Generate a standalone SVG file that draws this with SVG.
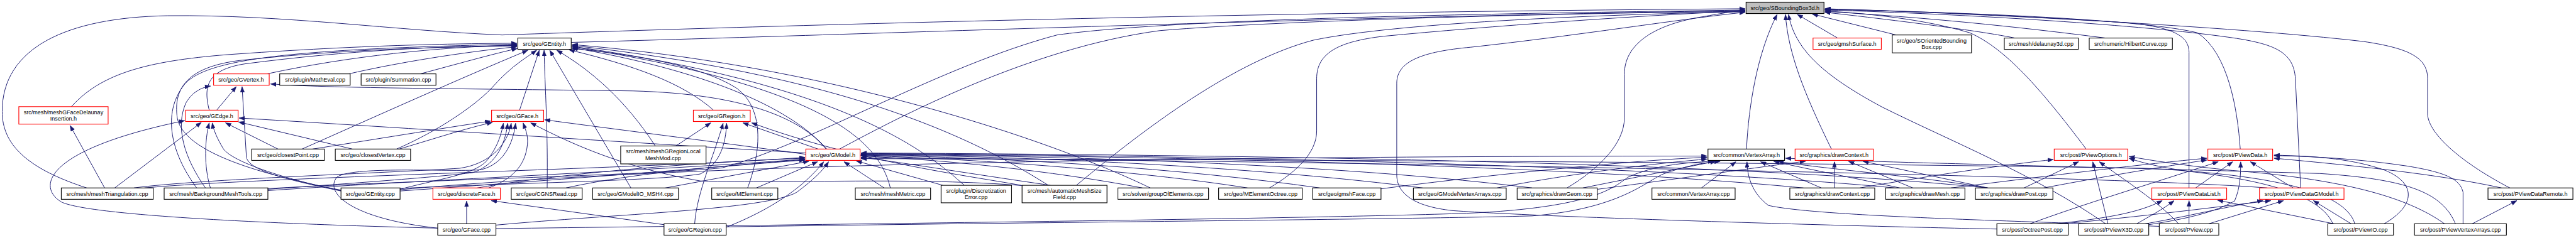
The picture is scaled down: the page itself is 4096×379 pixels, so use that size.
<svg xmlns="http://www.w3.org/2000/svg" width="4096" height="379" viewBox="0 0 4096 379">
<defs>
<style>
.e{fill:none;stroke:#191970;stroke-width:1.4;marker-end:url(#ah)}
.nb{fill:#fff;stroke:#000;stroke-width:1.6}
.nr{fill:#fff;stroke:#ff0000;stroke-width:1.6}
.ng{fill:#bfbfbf;stroke:#000;stroke-width:1.6}
.t{font-family:"Liberation Sans",Arial,sans-serif;font-size:13px;fill:#000;text-anchor:middle}
</style>
<marker id="ah" markerUnits="userSpaceOnUse" markerWidth="13" markerHeight="10" viewBox="0 0 12 9" refX="12" refY="4.5" orient="auto">
<path d="M0,0 L12,4.5 L0,9 z" fill="#191970" stroke="#191970" stroke-width="0.5"/>
</marker>
</defs>
<rect x="0" y="0" width="4096" height="379" fill="#fff"/>
<g transform="scale(0.696)">
<g id="connectors">
<path class="e" d="M1305,97 C2000,78 3000,40 3987,24"/>
<path class="e" d="M198,430 C60,385 5,330 5,255 C5,110 150,40 383,36 C650,33 900,70 1147,80 C1500,68 2600,30 3987,20"/>
<path class="e" d="M1918,341 C2050,270 2350,110 2650,70 C2950,45 3600,30 3987,26"/>
<path class="e" d="M600,432 C1000,410 1500,400 1650,384 C1850,330 2150,150 2415,80 C2700,40 3500,30 3987,23"/>
<path class="e" d="M2459,424 C2620,290 2820,140 3000,92 C3200,50 3700,32 3987,27"/>
<path class="e" d="M2900,430 C2960,395 3008,350 3008,300 L3008,180 C3008,120 3060,95 3160,83 C3400,60 3750,35 3987,25"/>
<path class="e" d="M4562,524 C4250,518 3550,498 3320,482 C3225,472 3191,440 3191,400 L3191,190 C3191,140 3250,118 3360,108 C3600,82 3850,42 3987,28"/>
<path class="e" d="M3580,430 C3650,388 3711,330 3711,270 L3711,170 C3711,100 3780,58 3880,40 C3930,31 3960,26 3987,23"/>
<path class="e" d="M3990,341 C3995,240 4015,120 4060,33"/>
<path class="e" d="M4184,341 C4120,210 4085,120 4079,33"/>
<path class="e" d="M4812,513 C4650,400 4450,320 4300,245 C4160,170 4100,110 4086,33"/>
<path class="e" d="M4198,87 L4106,33"/>
<path class="e" d="M4332,80 L4140,32"/>
<path class="e" d="M4603,87 C4560,78 4450,60 4169,28"/>
<path class="e" d="M4810,87 C4600,60 4400,40 4169,26"/>
<path class="e" d="M4766,341 C4660,200 4580,110 4500,75 C4400,45 4280,32 4169,25"/>
<path class="e" d="M5001,430 L5001,120 C5001,80 4960,62 4860,52 C4600,35 4350,24 4169,21"/>
<path class="e" d="M5118,341 C5112,250 5090,120 5020,75 C4900,45 4500,28 4169,22"/>
<path class="e" d="M5256,430 L5244,180 C5240,120 5200,100 5090,85 C4900,58 4500,32 4169,23"/>
<path class="e" d="M5734,430 C5610,365 5546,300 5546,260 L5546,180 C5546,130 5500,110 5400,95 C5100,60 4500,30 4169,20"/>
<path class="e" d="M610,169 C800,128 1000,108 1181,103"/>
<path class="e" d="M797,169 C900,145 1050,120 1181,107"/>
<path class="e" d="M960,169 C1050,145 1120,125 1182,111"/>
<path class="e" d="M163,244 C230,170 330,140 520,125 C800,105 1000,100 1181,99"/>
<path class="e" d="M478,252 C465,200 470,160 560,146 C800,115 1000,106 1181,104"/>
<path class="e" d="M450,431 C390,350 370,260 420,195 C470,130 700,112 1181,101"/>
<path class="e" d="M779,435 C600,400 420,350 405,270 C395,200 430,150 560,137 C800,112 1000,108 1181,105"/>
<path class="e" d="M690,341 C850,270 1050,180 1206,115"/>
<path class="e" d="M906,341 C1000,300 1090,240 1130,194 C1170,150 1205,130 1226,115"/>
<path class="e" d="M1187,252 L1232,115"/>
<path class="e" d="M1250,431 C1252,300 1245,200 1243,115"/>
<path class="e" d="M1442,431 L1256,115"/>
<path class="e" d="M1497,334 C1430,230 1350,160 1272,115"/>
<path class="e" d="M1630,252 C1560,190 1450,150 1300,114"/>
<path class="e" d="M1708,430 C1745,330 1740,240 1680,200 C1600,150 1450,125 1307,111"/>
<path class="e" d="M1889,341 C1800,240 1600,160 1307,109"/>
<path class="e" d="M2034,430 C2010,330 1900,200 1307,107"/>
<path class="e" d="M2203,424 C2100,330 1900,190 1307,106"/>
<path class="e" d="M2395,424 C2200,300 1900,170 1307,104"/>
<path class="e" d="M2628,430 C2400,320 1900,150 1307,102"/>
<path class="e" d="M495,252 L540,198"/>
<path class="e" d="M470,431 C420,360 400,290 425,235 C440,210 460,200 481,197"/>
<path class="e" d="M779,437 C650,410 570,390 563,360 L553,198"/>
<path class="e" d="M1887,341 C1830,270 1700,215 1446,208 C1000,202 760,202 618,192"/>
<path class="e" d="M1000,522 C600,512 200,492 140,462 C80,425 110,340 422,276"/>
<path class="e" d="M262,430 L460,280"/>
<path class="e" d="M481,431 C465,380 468,320 478,281"/>
<path class="e" d="M779,436 C650,410 530,370 510,340 C495,315 487,295 485,281"/>
<path class="e" d="M635,341 L515,281"/>
<path class="e" d="M805,341 L545,279"/>
<path class="e" d="M1841,350 C1500,330 800,285 546,270"/>
<path class="e" d="M239,430 L160,287"/>
<path class="e" d="M714,341 C850,320 1000,295 1121,277"/>
<path class="e" d="M912,341 C1000,315 1060,295 1125,280"/>
<path class="e" d="M1841,353 C1600,320 1400,295 1244,274"/>
<path class="e" d="M1114,431 C1170,410 1200,380 1205,330 C1207,310 1200,295 1195,281"/>
<path class="e" d="M2340,425 C2100,405 1800,420 1600,414 C1400,380 1270,310 1212,281"/>
<path class="e" d="M1000,522 C800,500 740,440 770,405 C810,378 1050,395 1100,388 C1150,375 1172,330 1178,282"/>
<path class="e" d="M306,430 C450,410 900,395 1050,385 C1120,375 1160,330 1168,282"/>
<path class="e" d="M612,433 C800,420 1000,405 1080,395 C1140,375 1155,320 1160,282"/>
<path class="e" d="M914,433 C1000,410 1080,400 1110,370 C1135,340 1145,310 1150,282"/>
<path class="e" d="M1544,334 L1624,281"/>
<path class="e" d="M1587,512 C1592,440 1630,360 1652,282"/>
<path class="e" d="M900,432 C1100,420 1500,415 1600,398 C1645,375 1658,330 1660,282"/>
<path class="e" d="M1869,341 L1697,281"/>
<path class="e" d="M2333,424 C2200,400 1960,370 1717,281"/>
<path class="e" d="M1066,512 L1066,460"/>
<path class="e" d="M1517,514 L1122,459"/>
<path class="e" d="M330,430 C600,405 1500,385 1839,360"/>
<path class="e" d="M612,436 C1000,410 1500,390 1839,364"/>
<path class="e" d="M914,437 C1300,410 1600,385 1839,366"/>
<path class="e" d="M1085,431 C1234,404 1524,374 1839,362"/>
<path class="e" d="M1293,430 C1450,395 1650,380 1839,365"/>
<path class="e" d="M1515,431 L1848,369"/>
<path class="e" d="M1728,430 L1868,370"/>
<path class="e" d="M1659,520 C1790,468 1850,410 1882,370"/>
<path class="e" d="M1133,515 C1400,490 1750,480 1820,440 C1860,410 1880,390 1893,370"/>
<path class="e" d="M2020,430 L1928,370"/>
<path class="e" d="M2154,424 L1956,368"/>
<path class="e" d="M2400,424 C2200,395 2050,370 1967,360"/>
<path class="e" d="M2610,430 C2400,390 2150,365 1967,357"/>
<path class="e" d="M2850,430 C2600,390 2200,362 1967,356"/>
<path class="e" d="M3015,430 C2700,385 2300,360 1967,355"/>
<path class="e" d="M3250,430 C2900,385 2400,358 1967,354"/>
<path class="e" d="M3500,430 C3100,380 2500,357 1967,353"/>
<path class="e" d="M4120,430 C3600,380 2700,358 1967,352"/>
<path class="e" d="M4330,430 C3800,380 2800,356 1967,351"/>
<path class="e" d="M4540,430 C4000,375 3000,355 1967,350"/>
<path class="e" d="M5180,430 C4800,400 3000,368 1967,361"/>
<path class="e" d="M5380,513 C5360,440 5200,400 4900,385 C4000,370 2800,365 1967,363"/>
<path class="e" d="M3887,430 L3966,370"/>
<path class="e" d="M3616,430 L3920,369"/>
<path class="e" d="M3420,430 C3600,395 3800,372 3900,364"/>
<path class="e" d="M3155,432 C3400,400 3750,365 3900,360"/>
<path class="e" d="M1133,523 C2000,512 3000,500 3350,488 C3650,475 3690,425 3720,405 C3780,378 3850,372 3915,369"/>
<path class="e" d="M1659,519 C2500,507 3200,502 3500,494 C3700,478 3760,415 3800,398 C3850,380 3890,372 3930,369"/>
<path class="e" d="M914,434 C1500,380 2500,358 3900,357"/>
<path class="e" d="M4340,430 C4250,410 4120,385 4052,369"/>
<path class="e" d="M4540,430 C4400,405 4150,385 4062,369"/>
<path class="e" d="M4161,430 L4022,370"/>
<path class="e" d="M4935,518 C4600,505 4150,495 4040,470 C4000,440 3992,400 3991,370"/>
<path class="e" d="M5610,513 C5580,440 5500,410 5300,397 C4800,382 4300,372 4079,362"/>
<path class="e" d="M4191,430 L4191,370"/>
<path class="e" d="M4370,430 L4223,369"/>
<path class="e" d="M4542,430 L4256,369"/>
<path class="e" d="M3650,433 C3900,400 4050,378 4125,369"/>
<path class="e" d="M4249,430 C4450,395 4600,375 4691,365"/>
<path class="e" d="M4624,430 L4749,370"/>
<path class="e" d="M4816,513 L4781,370"/>
<path class="e" d="M4978,513 C4930,460 4850,410 4796,370"/>
<path class="e" d="M5330,513 C5300,440 5150,410 5000,392 C4950,385 4900,375 4864,362"/>
<path class="e" d="M5586,513 C5500,450 5350,410 5100,390 C5000,380 4920,368 4864,358"/>
<path class="e" d="M5016,430 L5101,370"/>
<path class="e" d="M5239,430 L5141,370"/>
<path class="e" d="M4909,514 C5000,500 5060,485 5105,460 C5118,430 5119,400 5119,370"/>
<path class="e" d="M4635,513 C4750,470 4900,425 5068,370"/>
<path class="e" d="M4457,430 C4700,400 4900,375 5042,362"/>
<path class="e" d="M4669,430 C4800,405 4950,380 5042,366"/>
<path class="e" d="M5445,513 C5520,470 5520,420 5450,390 C5380,365 5300,357 5195,355"/>
<path class="e" d="M5627,513 L5627,440 C5620,410 5590,395 5500,380 C5400,365 5300,358 5195,356"/>
<path class="e" d="M5715,430 C5600,405 5450,385 5195,362"/>
<path class="e" d="M5001,512 L5001,459"/>
<path class="e" d="M5337,513 L5066,458"/>
<path class="e" d="M4690,513 C4800,500 4880,490 4940,459"/>
<path class="e" d="M4880,513 C4910,495 4940,480 4967,459"/>
<path class="e" d="M5373,513 L5285,459"/>
<path class="e" d="M5043,513 L5217,459"/>
<path class="e" d="M4700,513 C4900,495 5050,475 5188,459"/>
<path class="e" d="M4890,514 C5000,495 5100,470 5170,459"/>
<path class="e" d="M5646,513 L5750,459"/>
</g>
<g id="n-sbb"><rect class="ng" x="3989" y="5" width="178" height="26"/><text class="t" x="4078" y="23">src/geo/SBoundingBox3d.h</text></g>
<g id="n-gentity-h"><rect class="nb" x="1183" y="87" width="122" height="26"/><text class="t" x="1244" y="105">src/geo/GEntity.h</text></g>
<g id="n-gmshsurface-h"><rect class="nr" x="4142" y="87" width="156" height="26"/><text class="t" x="4220" y="105">src/geo/gmshSurface.h</text></g>
<g id="n-sorientedbbox"><rect class="nb" x="4323" y="80" width="181" height="41"/><text class="t" x="4413" y="97">src/geo/SOrientedBounding</text><text class="t" x="4413" y="112">Box.cpp</text></g>
<g id="n-delaunay3d"><rect class="nb" x="4579" y="87" width="169" height="26"/><text class="t" x="4663" y="105">src/mesh/delaunay3d.cpp</text></g>
<g id="n-hilbert"><rect class="nb" x="4773" y="87" width="190" height="26"/><text class="t" x="4868" y="105">src/numeric/HilbertCurve.cpp</text></g>
<g id="n-gvertex-h"><rect class="nr" x="488" y="169" width="127" height="26"/><text class="t" x="551" y="187">src/geo/GVertex.h</text></g>
<g id="n-matheval"><rect class="nb" x="639" y="169" width="161" height="26"/><text class="t" x="720" y="187">src/plugin/MathEval.cpp</text></g>
<g id="n-summation"><rect class="nb" x="825" y="169" width="171" height="26"/><text class="t" x="910" y="187">src/plugin/Summation.cpp</text></g>
<g id="n-gfdi-h"><rect class="nr" x="43" y="244" width="204" height="40"/><text class="t" x="145" y="261">src/mesh/meshGFaceDelaunay</text><text class="t" x="145" y="276">Insertion.h</text></g>
<g id="n-gedge-h"><rect class="nr" x="424" y="252" width="120" height="26"/><text class="t" x="484" y="270">src/geo/GEdge.h</text></g>
<g id="n-gface-h"><rect class="nr" x="1123" y="252" width="119" height="26"/><text class="t" x="1182" y="270">src/geo/GFace.h</text></g>
<g id="n-gregion-h"><rect class="nr" x="1584" y="252" width="130" height="26"/><text class="t" x="1649" y="270">src/geo/GRegion.h</text></g>
<g id="n-closestpoint"><rect class="nb" x="575" y="341" width="166" height="26"/><text class="t" x="658" y="359">src/geo/closestPoint.cpp</text></g>
<g id="n-closestvertex"><rect class="nb" x="766" y="341" width="172" height="26"/><text class="t" x="852" y="359">src/geo/closestVertex.cpp</text></g>
<g id="n-grlmm"><rect class="nb" x="1418" y="334" width="195" height="41"/><text class="t" x="1515" y="351">src/mesh/meshGRegionLocal</text><text class="t" x="1515" y="366">MeshMod.cpp</text></g>
<g id="n-gmodel-h"><rect class="nr" x="1841" y="341" width="124" height="26"/><text class="t" x="1903" y="359">src/geo/GModel.h</text></g>
<g id="n-vertexarray-h"><rect class="nb" x="3902" y="341" width="175" height="26"/><text class="t" x="3990" y="359">src/common/VertexArray.h</text></g>
<g id="n-drawcontext-h"><rect class="nr" x="4101" y="341" width="179" height="26"/><text class="t" x="4190" y="359">src/graphics/drawContext.h</text></g>
<g id="n-pviewoptions-h"><rect class="nr" x="4693" y="341" width="168" height="26"/><text class="t" x="4777" y="359">src/post/PViewOptions.h</text></g>
<g id="n-pviewdata-h"><rect class="nr" x="5044" y="341" width="148" height="26"/><text class="t" x="5118" y="359">src/post/PViewData.h</text></g>
<g id="n-meshtriangulation"><rect class="nb" x="140" y="430" width="210" height="26"/><text class="t" x="245" y="448">src/mesh/meshTriangulation.cpp</text></g>
<g id="n-bmt"><rect class="nb" x="375" y="430" width="237" height="26"/><text class="t" x="493" y="448">src/mesh/BackgroundMeshTools.cpp</text></g>
<g id="n-gentity-cpp"><rect class="nb" x="779" y="430" width="135" height="26"/><text class="t" x="846" y="448">src/geo/GEntity.cpp</text></g>
<g id="n-discreteface-h"><rect class="nr" x="989" y="430" width="154" height="26"/><text class="t" x="1066" y="448">src/geo/discreteFace.h</text></g>
<g id="n-cgnsread"><rect class="nb" x="1168" y="430" width="162" height="26"/><text class="t" x="1249" y="448">src/geo/CGNSRead.cpp</text></g>
<g id="n-msh4"><rect class="nb" x="1354" y="430" width="196" height="26"/><text class="t" x="1452" y="448">src/geo/GModelIO_MSH4.cpp</text></g>
<g id="n-melement"><rect class="nb" x="1626" y="430" width="151" height="26"/><text class="t" x="1701" y="448">src/geo/MElement.cpp</text></g>
<g id="n-meshmetric"><rect class="nb" x="1954" y="430" width="172" height="26"/><text class="t" x="2040" y="448">src/mesh/meshMetric.cpp</text></g>
<g id="n-discerr"><rect class="nb" x="2150" y="424" width="161" height="40"/><text class="t" x="2230" y="441">src/plugin/Discretization</text><text class="t" x="2230" y="456">Error.cpp</text></g>
<g id="n-amsf"><rect class="nb" x="2335" y="424" width="194" height="40"/><text class="t" x="2432" y="441">src/mesh/automaticMeshSize</text><text class="t" x="2432" y="456">Field.cpp</text></g>
<g id="n-groupofelements"><rect class="nb" x="2554" y="430" width="207" height="26"/><text class="t" x="2657" y="448">src/solver/groupOfElements.cpp</text></g>
<g id="n-meoctree"><rect class="nb" x="2784" y="430" width="191" height="26"/><text class="t" x="2880" y="448">src/geo/MElementOctree.cpp</text></g>
<g id="n-gmshface"><rect class="nb" x="2999" y="430" width="156" height="26"/><text class="t" x="3077" y="448">src/geo/gmshFace.cpp</text></g>
<g id="n-gmva"><rect class="nb" x="3229" y="430" width="212" height="26"/><text class="t" x="3335" y="448">src/geo/GModelVertexArrays.cpp</text></g>
<g id="n-drawgeom"><rect class="nb" x="3466" y="430" width="183" height="26"/><text class="t" x="3557" y="448">src/graphics/drawGeom.cpp</text></g>
<g id="n-vertexarray-cpp"><rect class="nb" x="3774" y="430" width="190" height="26"/><text class="t" x="3869" y="448">src/common/VertexArray.cpp</text></g>
<g id="n-drawcontext-cpp"><rect class="nb" x="4089" y="430" width="194" height="26"/><text class="t" x="4186" y="448">src/graphics/drawContext.cpp</text></g>
<g id="n-drawmesh"><rect class="nb" x="4308" y="430" width="181" height="26"/><text class="t" x="4398" y="448">src/graphics/drawMesh.cpp</text></g>
<g id="n-drawpost"><rect class="nb" x="4513" y="430" width="177" height="26"/><text class="t" x="4601" y="448">src/graphics/drawPost.cpp</text></g>
<g id="n-pvdlist"><rect class="nr" x="4916" y="430" width="171" height="26"/><text class="t" x="5001" y="448">src/post/PViewDataList.h</text></g>
<g id="n-pvdgmodel"><rect class="nr" x="5162" y="430" width="193" height="26"/><text class="t" x="5258" y="448">src/post/PViewDataGModel.h</text></g>
<g id="n-pvdremote"><rect class="nb" x="5684" y="430" width="194" height="26"/><text class="t" x="5781" y="448">src/post/PViewDataRemote.h</text></g>
<g id="n-gface-cpp"><rect class="nb" x="1000" y="512" width="133" height="26"/><text class="t" x="1066" y="530">src/geo/GFace.cpp</text></g>
<g id="n-gregion-cpp"><rect class="nb" x="1517" y="512" width="142" height="26"/><text class="t" x="1588" y="530">src/geo/GRegion.cpp</text></g>
<g id="n-octreepost"><rect class="nb" x="4562" y="512" width="163" height="26"/><text class="t" x="4643" y="530">src/post/OctreePost.cpp</text></g>
<g id="n-pviewx3d"><rect class="nb" x="4749" y="512" width="160" height="26"/><text class="t" x="4829" y="530">src/post/PViewX3D.cpp</text></g>
<g id="n-pview-cpp"><rect class="nb" x="4933" y="512" width="136" height="26"/><text class="t" x="5001" y="530">src/post/PView.cpp</text></g>
<g id="n-pviewio"><rect class="nb" x="5318" y="512" width="150" height="26"/><text class="t" x="5393" y="530">src/post/PViewIO.cpp</text></g>
<g id="n-pvva"><rect class="nb" x="5516" y="512" width="210" height="26"/><text class="t" x="5621" y="530">src/post/PViewVertexArrays.cpp</text></g>
</g>
</svg>
